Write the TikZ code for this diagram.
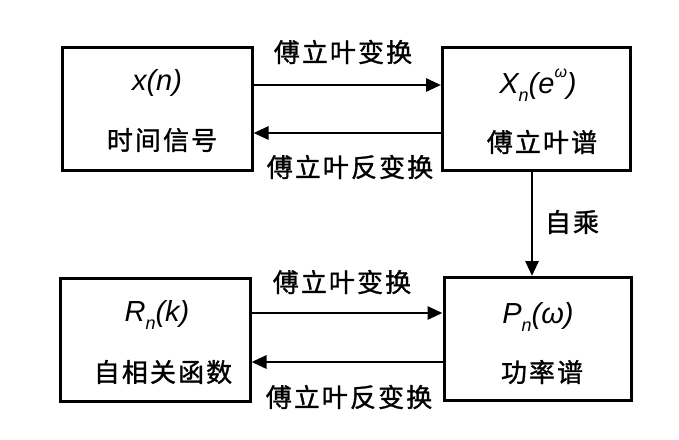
\documentclass[tikz,border=0pt]{standalone}
\usepackage{fontspec}
\setmainfont{Liberation Sans}
\newfontfamily\cjk[LetterSpace=8,FakeBold=1.2]{Noto Sans CJK SC}
\usetikzlibrary{arrows.meta,calc}
\newcommand{\mysub}[1]{\raisebox{-0.28em}{\fontsize{18}{19}\selectfont #1}}
\newcommand{\mysup}[1]{\raisebox{0.55em}{\fontsize{16}{17}\selectfont #1}}
\begin{document}
\begin{tikzpicture}[x=1pt,y=1pt,
  blk/.style={draw,line width=3pt,minimum height=123pt,inner sep=0pt},
  arr/.style={line width=2.8pt,-{Triangle[length=15pt,width=13pt]}},
  cn/.style={font=\cjk\fontsize{26}{28}\selectfont,inner sep=0pt},
  mt/.style={font=\itshape\fontsize{29}{31}\selectfont,inner sep=0pt}]
\useasboundingbox (0,0) rectangle (679,-439);
\node[blk,minimum width=190pt] (tl) at (157,-109) {};
\node[blk,minimum width=188pt] (tr) at (536.5,-109) {};
\node[blk,minimum width=190pt] (bl) at (155,-340) {};
\node[blk,minimum width=187pt] (br) at (537.5,-339) {};
% box texts
\node[mt] (tlm) at (157,-83) {x(n)};
\node[cn] (tlc) at (162,-140) {时间信号};
\node[mt] (trm) at (538,-85) {X\mysub{n}(e\mysup{ω})};
\node[cn] (trc) at (542,-142) {傅立叶谱};
\node[mt] (blm) at (157,-315) {R\mysub{n}(k)};
\node[cn] (blc) at (163,-372) {自相关函数};
\node[mt] (brm) at (538,-317) {P\mysub{n}(ω)};
\node[cn] (brc) at (542,-372) {功率谱};
% arrows
\draw[arr] ($(tl.east)+(0,24)$) -- ($(tr.west)+(0,24)$);
\draw[arr] ($(tr.west)+(0,-24)$) -- ($(tl.east)+(0,-24)$);
\draw[arr] ($(bl.east)+(0,27)$) -- ($(br.west)+(0,26)$);
\draw[arr] ($(br.west)+(0,-23)$) -- ($(bl.east)+(0,-22)$);
\coordinate (vs) at ($(tr.south)+(-4.5,0)$);
\draw[arr] (vs) -- (vs |- br.north);
% labels
\node[cn] (l1) at (343,-52) {傅立叶变换};
\node[cn] (l2) at (350,-167) {傅立叶反变换};
\node[cn] (l3) at (342,-282) {傅立叶变换};
\node[cn] (l4) at (349,-397) {傅立叶反变换};
\node[cn] (l5) at (572,-222) {自乘};
\end{tikzpicture}
\end{document}
